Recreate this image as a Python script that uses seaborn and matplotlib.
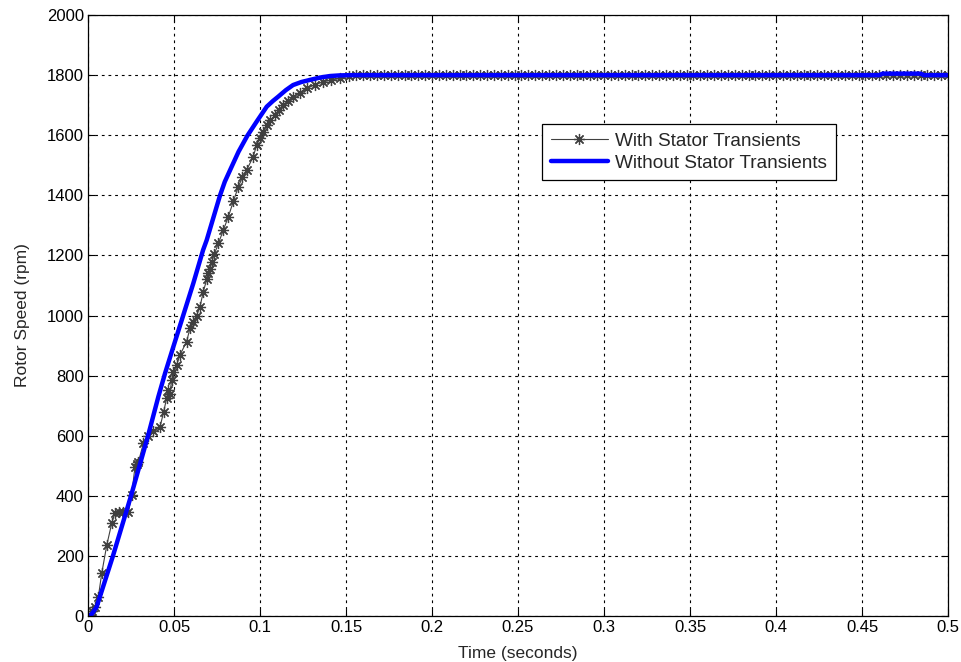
import numpy as np
import pandas as pd
import matplotlib
matplotlib.use("Agg")
import matplotlib.pyplot as plt
import seaborn as sns

# ---- data ----
blue_t = [0.0, 0.002, 0.005, 0.0145, 0.025, 0.0349, 0.0409, 0.0448, 0.0496, 0.0545,
          0.0612, 0.0669, 0.069, 0.073, 0.0767, 0.0795, 0.0826, 0.0875, 0.0926, 0.098,
          0.1039, 0.1075, 0.1105, 0.115, 0.1192, 0.124, 0.129, 0.135, 0.1407, 0.146,
          0.152, 0.30, 0.46, 0.462, 0.484, 0.486, 0.5]
blue_rpm = [0, 5, 30, 200, 400, 600, 730, 808, 896, 985,
            1107, 1218, 1251, 1328, 1399, 1445, 1484, 1545, 1598, 1645,
            1695, 1714, 1728, 1750, 1767, 1777, 1784, 1792, 1797, 1799,
            1800, 1800, 1800, 1805, 1805, 1800, 1800]

ramp_t = [0.0, 0.001, 0.0025, 0.0041, 0.006, 0.008, 0.0109, 0.0138, 0.0157, 0.018,
          0.0205, 0.0235, 0.0254, 0.0273, 0.0285, 0.0293, 0.0322, 0.035, 0.038, 0.0419,
          0.044, 0.0457, 0.0467, 0.0476, 0.0486, 0.0496, 0.0515, 0.0535, 0.0573, 0.0593,
          0.0612, 0.0631, 0.0651, 0.067, 0.069, 0.07, 0.071, 0.0719, 0.0735, 0.0758,
          0.0787, 0.0816, 0.0845, 0.0874, 0.0898, 0.0922, 0.0961, 0.098, 0.1, 0.1019,
          0.1039, 0.106, 0.1087, 0.111, 0.1136, 0.1165, 0.1194, 0.123, 0.1271, 0.132,
          0.1368, 0.1415, 0.1465, 0.152]
ramp_rpm = [0, 3, 15, 31, 64, 143, 236, 309, 343, 345,
            346, 347, 403, 497, 505, 513, 575, 600, 615, 630,
            680, 725, 752, 740, 785, 813, 835, 869, 913, 958,
            979, 1000, 1029, 1079, 1120, 1140, 1155, 1179, 1205, 1240,
            1285, 1329, 1380, 1429, 1460, 1484, 1529, 1567, 1590, 1612,
            1634, 1650, 1667, 1685, 1700, 1715, 1728, 1742, 1756, 1768,
            1778, 1784, 1789, 1797]

plateau_t = [0.156, 0.160, 0.164, 0.168, 0.172, 0.176, 0.180, 0.184, 0.188, 0.192,
             0.196, 0.200, 0.204, 0.208, 0.212, 0.216, 0.220, 0.224, 0.228, 0.232,
             0.236, 0.240, 0.244, 0.248, 0.252, 0.256, 0.260, 0.264, 0.268, 0.272,
             0.276, 0.280, 0.284, 0.288, 0.292, 0.296, 0.300, 0.304, 0.308, 0.312,
             0.316, 0.320, 0.324, 0.328, 0.332, 0.336, 0.340, 0.344, 0.348, 0.352,
             0.356, 0.360, 0.364, 0.368, 0.372, 0.376, 0.380, 0.384, 0.388, 0.392,
             0.396, 0.400, 0.404, 0.408, 0.412, 0.416, 0.420, 0.424, 0.428, 0.432,
             0.436, 0.440, 0.444, 0.448, 0.452, 0.456, 0.460, 0.464, 0.468, 0.472,
             0.476, 0.480, 0.484, 0.488, 0.492, 0.496, 0.500]
plateau_rpm = [1800] * len(plateau_t)

gray_t = ramp_t + plateau_t
gray_rpm = ramp_rpm + plateau_rpm

x_ticks = [0, 0.05, 0.1, 0.15, 0.2, 0.25, 0.3, 0.35, 0.4, 0.45, 0.5]
x_tick_labels = ["0", "0.05", "0.1", "0.15", "0.2", "0.25", "0.3", "0.35", "0.4", "0.45", "0.5"]
y_ticks = [0, 200, 400, 600, 800, 1000, 1200, 1400, 1600, 1800, 2000]

label_gray = "With Stator Transients"
label_blue = "Without Stator Transients"

# ---- plot ----
sns.set_style("white")
plt.rcParams['font.family'] = ['Liberation Sans', 'DejaVu Sans']
plt.rcParams['font.size'] = 12

fig = plt.figure(figsize=(9.62, 6.62), dpi=100)
ax = fig.add_axes([0.0915, 0.0695, 0.894, 0.9078])

df_gray = pd.DataFrame({"t": gray_t, "rpm": gray_rpm})
df_blue = pd.DataFrame({"t": blue_t, "rpm": blue_rpm})

sns.lineplot(data=df_gray, x="t", y="rpm", ax=ax, sort=False, estimator=None,
             color="#404040", linewidth=0.8, marker=(8, 2, 0), markersize=8,
             markeredgewidth=0.9, markeredgecolor="#404040", label=label_gray)
sns.lineplot(data=df_blue, x="t", y="rpm", ax=ax, sort=False, estimator=None,
             color="#0000ff", linewidth=3.2, label=label_blue)

ax.set_xlim(0, 0.5)
ax.set_ylim(0, 2000)
ax.set_xticks(x_ticks)
ax.set_xticklabels(x_tick_labels)
ax.set_yticks(y_ticks)
ax.grid(True, color="black", linestyle=(0, (2.5, 3.5)), linewidth=0.8)
ax.set_axisbelow(True)
for s in ax.spines.values():
    s.set_color("black")
    s.set_linewidth(0.9)
    s.set_visible(True)
ax.tick_params(direction="in", length=5, width=0.8, top=True, right=True,
               bottom=True, left=True, labelsize=12, colors="black", pad=3)
ax.set_xlabel("Time (seconds)", fontsize=12.5, labelpad=8)
ax.set_ylabel("Rotor Speed (rpm)", fontsize=12.5, labelpad=12)

leg = ax.legend(loc="upper left", bbox_to_anchor=(0.528, 0.819), fontsize=13.7,
                frameon=True, fancybox=False, framealpha=1, edgecolor="black",
                handlelength=3.0, handletextpad=0.4, borderpad=0.45, labelspacing=0.25,
                borderaxespad=0)
leg.get_frame().set_linewidth(0.9)

fig.savefig("out.png", dpi=100, facecolor="white")
